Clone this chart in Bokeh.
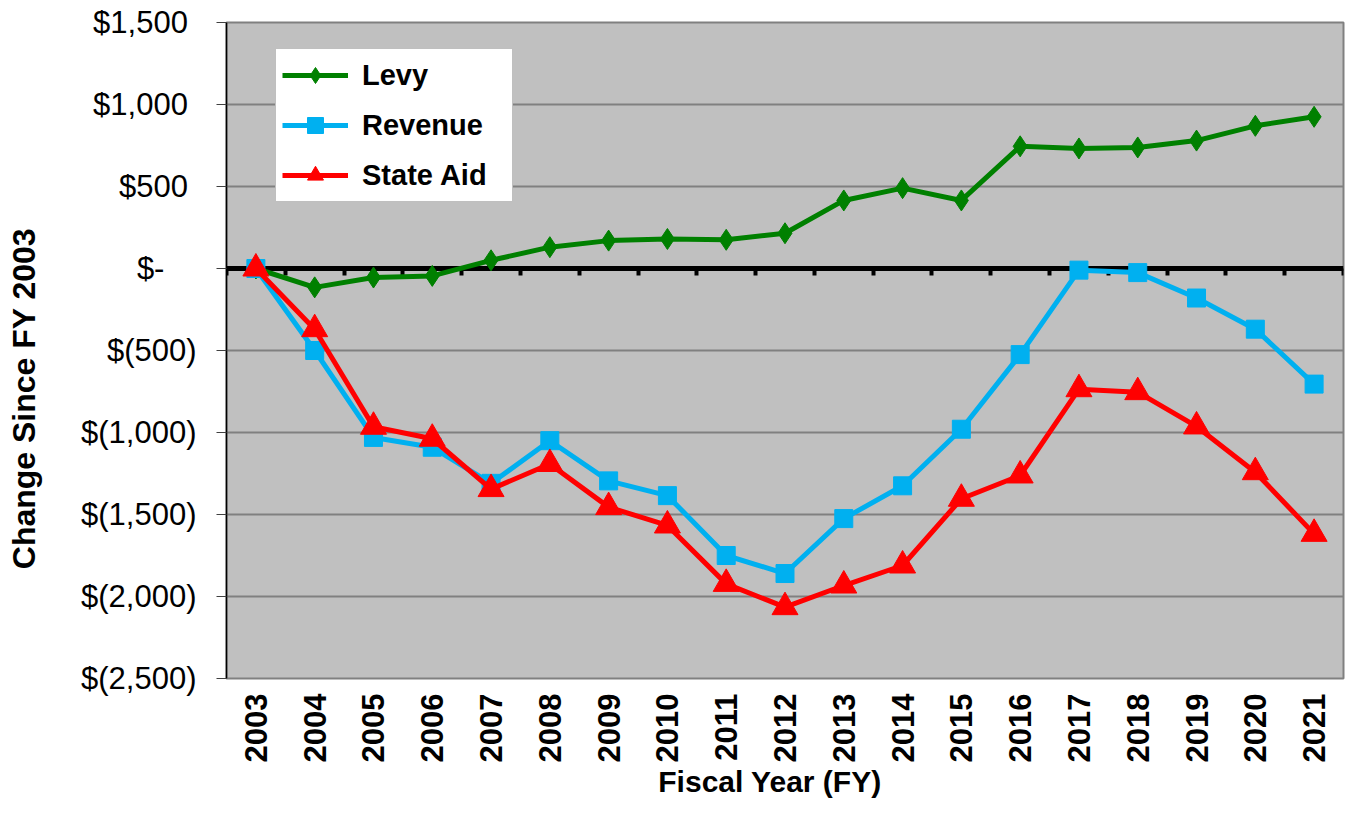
import math
import numpy as np
from bokeh.plotting import figure
from bokeh.models import Range1d, FixedTicker, LinearAxis
from bokeh.embed import file_html
from bokeh.resources import INLINE

# ---------------- data ----------------
years = ["2003", "2004", "2005", "2006", "2007", "2008", "2009", "2010", "2011", "2012",
         "2013", "2014", "2015", "2016", "2017", "2018", "2019", "2020", "2021"]
levy = [0, -115, -55, -45, 50, 130, 170, 180, 175, 215,
        415, 490, 415, 745, 732, 738, 780, 870, 925]
revenue = [0, -500, -1030, -1090, -1310, -1050, -1295, -1385, -1750, -1860,
           -1525, -1325, -980, -525, -10, -25, -180, -370, -705]
state_aid = [0, -370, -965, -1038, -1345, -1192, -1455, -1567, -1923, -2065,
             -1933, -1811, -1404, -1262, -736, -754, -963, -1242, -1618]
y_ticks = [-2500, -2000, -1500, -1000, -500, 0, 500, 1000, 1500]
y_tick_labels = ["$(2,500)", "$(2,000)", "$(1,500)", "$(1,000)", "$(500)",
                 "$-", "$500", "$1,000", "$1,500"]
series_names = ["Levy", "Revenue", "State Aid"]
x_title = "Fiscal Year (FY)"
y_title = "Change Since FY 2003"

# ---------------- figure ----------------
FONT = "Liberation Sans"
x = np.arange(len(years)) + 0.5
boundaries = list(np.arange(len(years) + 1).astype(float))

p = figure(width=1345, height=801,
           x_range=Range1d(0, len(years)), y_range=Range1d(y_ticks[0], y_ticks[-1]),
           output_backend="svg", toolbar_location=None,
           min_border_left=226, min_border_right=2, min_border_top=22, min_border_bottom=123,
           background_fill_color="#C0C0C0", border_fill_color="white",
           outline_line_color="#808080", outline_line_width=2)

# y axis (accounting-style labels: non-collapsing trailing spaces keep digits aligned)
def pad_label(s):
    if s.endswith(")"):
        return s
    if s == "$-":
        return s + "\u2007\u2008\u2009"
    return s + "\u2008"

yax = p.yaxis[0]
yax.ticker = FixedTicker(ticks=y_ticks)
yax.major_label_overrides = {t: pad_label(l) for t, l in zip(y_ticks, y_tick_labels)}
yax.major_label_text_font = FONT
yax.major_label_text_font_size = "31px"
yax.major_label_text_color = "black"
yax.major_label_standoff = 20
yax.major_tick_out = 10
yax.major_tick_in = 0
yax.major_tick_line_color = "#404040"
yax.minor_tick_out = 0
yax.minor_tick_in = 0
yax.axis_line_color = "black"
yax.axis_line_width = 1.5
# trailing em spaces shift the centred title toward the bottom, as in the original
yax.axis_label = y_title + "\u2003\u2003\u2003"
yax.axis_label_text_font = FONT
yax.axis_label_text_font_style = "bold"
yax.axis_label_text_font_size = "32px"
yax.axis_label_text_color = "black"
yax.axis_label_standoff = 36

# bottom axis with year labels
xax = p.xaxis[0]
xax.ticker = FixedTicker(ticks=list(x))
xax.major_label_overrides = {float(t): y for t, y in zip(x, years)}
xax.major_label_orientation = math.pi / 2
xax.major_label_text_font = FONT
xax.major_label_text_font_style = "bold"
xax.major_label_text_font_size = "31px"
xax.major_label_text_color = "black"
xax.major_label_standoff = 15
xax.major_tick_out = 0
xax.major_tick_in = 0
xax.minor_tick_out = 0
xax.minor_tick_in = 0
xax.axis_line_color = None
xax.axis_label = x_title + "\u2003"
xax.axis_label_text_font = FONT
xax.axis_label_text_font_style = "bold"
xax.axis_label_text_font_size = "30px"
xax.axis_label_text_color = "black"
xax.axis_label_standoff = 0

# zero axis drawn at y = 0 with ticks at category boundaries
zero_axis = LinearAxis(fixed_location=0, ticker=FixedTicker(ticks=boundaries),
                       axis_line_color="black", axis_line_width=5,
                       major_tick_out=7, major_tick_in=0, major_tick_line_width=4,
                       major_tick_line_color="black", minor_tick_out=0, minor_tick_in=0,
                       major_label_overrides={b: "" for b in boundaries},
                       level="underlay")
p.add_layout(zero_axis, "below")

# grids
p.xgrid.visible = False
p.ygrid.ticker = FixedTicker(ticks=[t for t in y_ticks if t != 0])
p.ygrid.grid_line_color = "#808080"
p.ygrid.grid_line_width = 2

# series
colors = ["#008000", "#00B0F0", "#FF0000"]
markers = ["diamond", "square", "triangle"]
sizes = [21, 18, 26]
for name, vals, c, m, s in zip(series_names, [levy, revenue, state_aid], colors, markers, sizes):
    p.line(x, vals, line_color=c, line_width=5, legend_label=name)
    p.scatter(x, vals, marker=m, size=s, fill_color=c, line_color=c, legend_label=name)

leg = p.legend[0]
leg.location = (49, 476)
leg.margin = 0
leg.padding = 6
leg.spacing = 10
leg.label_height = 40
leg.glyph_height = 40
leg.glyph_width = 66
leg.label_standoff = 14
leg.label_width = 144
leg.label_text_font = FONT
leg.label_text_font_style = "bold"
leg.label_text_font_size = "29px"
leg.label_text_color = "black"
leg.border_line_color = "#808080"
leg.border_line_width = 1.5
leg.background_fill_color = "white"
leg.background_fill_alpha = 1.0

open("out.html", "w").write(file_html(p, INLINE))
